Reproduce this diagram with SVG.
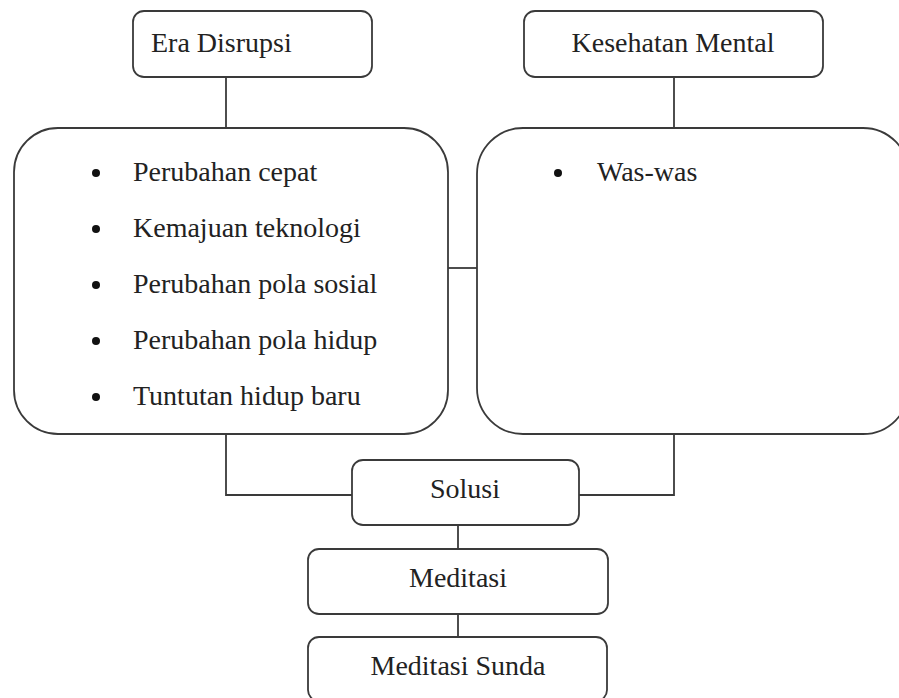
<svg xmlns="http://www.w3.org/2000/svg" width="899" height="698" viewBox="0 0 899 698">
<style>
.box{fill:#fff;stroke:#3a3a3a;stroke-width:1.8}
.ln{fill:none;stroke:#3a3a3a;stroke-width:1.8}
text{font-family:"Liberation Serif","Times New Roman",serif;font-size:28px;fill:#222}
.c{text-anchor:middle}
.dot{fill:#111}
</style>
<rect width="899" height="698" fill="#fff"/>
<g id="connectors">
<line class="ln" x1="226" y1="77" x2="226" y2="128"/>
<line class="ln" x1="674" y1="77" x2="674" y2="128"/>
<line class="ln" x1="448" y1="268" x2="477" y2="268"/>
<polyline class="ln" points="226,434 226,495 352,495"/>
<polyline class="ln" points="674,434 674,495 579,495"/>
<line class="ln" x1="458" y1="525" x2="458" y2="549"/>
<line class="ln" x1="458" y1="614" x2="458" y2="637"/>
</g>
<g id="era-disrupsi">
<rect class="box" x="133" y="11" width="239" height="66" rx="11"/>
<text x="151" y="52">Era Disrupsi</text>
</g>
<g id="kesehatan-mental">
<rect class="box" x="524" y="11" width="299" height="66" rx="11"/>
<text class="c" x="673" y="52">Kesehatan Mental</text>
</g>
<g id="era-list">
<rect class="box" x="14" y="128" width="434" height="306" rx="44"/>
<circle class="dot" cx="96" cy="173" r="4"/>
<text x="133" y="181">Perubahan cepat</text>
<circle class="dot" cx="96" cy="229" r="4"/>
<text x="133" y="237">Kemajuan teknologi</text>
<circle class="dot" cx="96" cy="285" r="4"/>
<text x="133" y="293">Perubahan pola sosial</text>
<circle class="dot" cx="96" cy="341" r="4"/>
<text x="133" y="349">Perubahan pola hidup</text>
<circle class="dot" cx="96" cy="397" r="4"/>
<text x="133" y="405">Tuntutan hidup baru</text>
</g>
<g id="mental-list">
<rect class="box" x="477" y="128" width="432" height="306" rx="46"/>
<circle class="dot" cx="558" cy="173" r="4"/>
<text x="597" y="181">Was-was</text>
</g>
<g id="solusi">
<rect class="box" x="352" y="460" width="227" height="65" rx="11"/>
<text class="c" x="465" y="498">Solusi</text>
</g>
<g id="meditasi">
<rect class="box" x="308" y="549" width="300" height="65" rx="11"/>
<text class="c" x="458" y="587">Meditasi</text>
</g>
<g id="meditasi-sunda">
<rect class="box" x="308" y="637" width="299" height="64" rx="11"/>
<text class="c" x="458" y="675">Meditasi Sunda</text>
</g>
</svg>
